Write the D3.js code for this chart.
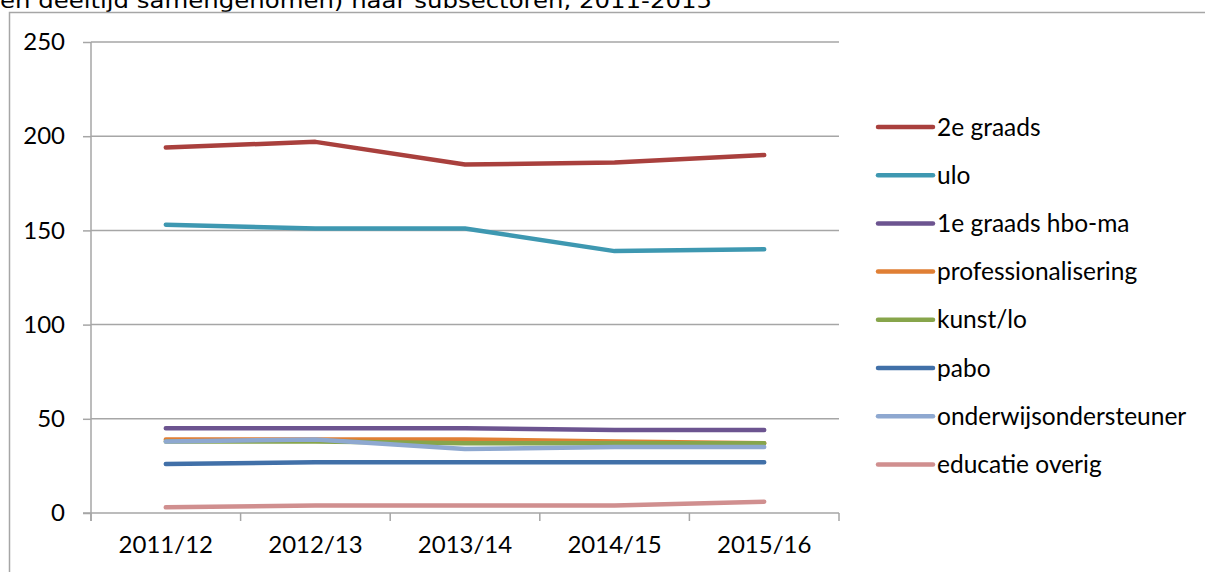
<!DOCTYPE html>
<html>
<head>
<meta charset="utf-8">
<script src="https://cdn.jsdelivr.net/npm/d3@7"></script>
<style>
  body { margin: 0; background: #fff; overflow: hidden; }
  svg { display: block; }
  .tick text { font-family: Lato, 'Open Sans', sans-serif; font-size: 24px; fill: #000; }
</style>
</head>
<body>
<script>
const years = ['2011/12', '2012/13', '2013/14', '2014/15', '2015/16']
const seriesNames = ['2e graads', 'ulo', '1e graads hbo-ma', 'professionalisering', 'kunst/lo', 'pabo', 'onderwijsondersteuner', 'educatie overig']
const seriesColors = ['#a9403d', '#3e98b1', '#6c5490', '#e07f34', '#87a54b', '#4170a8', '#8ea8d0', '#d08f8f']

const graads2 = [194, 197, 185, 186, 190]
const ulo = [153, 151, 151, 139, 140]
const graads1 = [45, 45, 45, 44, 44]
const professionalisering = [39, 39, 39, 38, 37]
const kunstLo = [38, 38, 37, 37, 37]
const pabo = [26, 27, 27, 27, 27]
const onderwijsondersteuner = [38, 39, 34, 35, 35]
const educatieOverig = [3, 4, 4, 4, 6]

const yTicks = [0, 50, 100, 150, 200, 250]

const seriesValues = [graads2, ulo, graads1, professionalisering, kunstLo, pabo, onderwijsondersteuner, educatieOverig]
const series = seriesNames.map((name, i) => ({ name, color: seriesColors[i], values: seriesValues[i] }))

const width = 1205
const height = 572
const margin = { left: 91, top: 42, right: 366, bottom: 59 }
const innerWidth = width - margin.left - margin.right
const innerHeight = height - margin.top - margin.bottom

const svg = d3.select('body').append('svg').attr('width', width).attr('height', height)

// title, its top is cut off like in the source
svg.append('text')
  .attr('x', 0)
  .attr('y', 8)
  .attr('textLength', 712)
  .attr('lengthAdjust', 'spacingAndGlyphs')
  .style('font-family', "'DejaVu Sans', Verdana, sans-serif")
  .style('font-size', '22px')
  .text('en deeltijd samengenomen) naar subsectoren, 2011-2015')

// outer chart frame (only left and top visible)
svg.append('path')
  .attr('d', `M9.5,${height}V12.5H${width}`)
  .attr('fill', 'none').attr('stroke', '#a6a6a6').attr('stroke-width', 1.5)

const g = svg.append('g').attr('transform', `translate(${margin.left},${margin.top})`)

const xScale = d3.scaleBand().domain(years).range([0, innerWidth])
const yScale = d3.scaleLinear().domain([0, 250]).range([innerHeight, 0])

// gridlines
g.append('g')
  .selectAll('line')
  .data(yTicks.filter(d => d > 0))
  .enter()
  .append('line')
  .attr('x1', 0).attr('x2', innerWidth)
  .attr('y1', d => yScale(d)).attr('y2', d => yScale(d))
  .attr('stroke', '#a6a6a6').attr('stroke-width', 1.5)

const yAxis = d3.axisLeft(yScale).tickValues(yTicks).tickSize(8).tickPadding(18)
const yAxisG = g.append('g').call(yAxis)

const xAxis = d3.axisBottom(xScale).tickSize(0).tickPadding(23)
const xAxisG = g.append('g').attr('transform', `translate(0,${innerHeight})`).call(xAxis)

// x ticks sit between categories
xAxisG.selectAll('.sep')
  .data(d3.range(years.length + 1))
  .enter()
  .append('line')
  .attr('class', 'sep')
  .attr('x1', i => i * xScale.step()).attr('x2', i => i * xScale.step())
  .attr('y1', 0).attr('y2', 8)

svg.selectAll('.domain, .tick line, .sep')
  .attr('stroke', '#a6a6a6').attr('stroke-width', 1.5)
yAxisG.select('.domain').attr('d', `M0,${innerHeight + 8}V0`)
xAxisG.select('.domain').attr('d', `M-8,0H${innerWidth}`)

const line = d3.line()
  .x((d, i) => xScale(years[i]) + xScale.bandwidth() / 2)
  .y(d => yScale(d))

g.append('g')
  .selectAll('path')
  .data(series)
  .enter()
  .append('path')
  .attr('d', d => line(d.values))
  .attr('fill', 'none')
  .attr('stroke', d => d.color)
  .attr('stroke-width', 4.5)
  .attr('stroke-linecap', 'round')
  .attr('stroke-linejoin', 'round')

// legend
const legend = svg.append('g').attr('transform', 'translate(878,127)')
const rows = legend.selectAll('g')
  .data(series)
  .enter()
  .append('g')
  .attr('transform', (d, i) => `translate(0,${i * 48.2})`)

rows.append('line')
  .attr('x1', 0).attr('x2', 55)
  .attr('stroke', d => d.color)
  .attr('stroke-width', 4.5)
  .attr('stroke-linecap', 'round')

rows.append('text')
  .attr('x', 59)
  .attr('dy', '0.35em')
  .style('font-family', 'Lato, sans-serif')
  .style('font-size', '24.5px')
  .text(d => d.name)
</script>
</body>
</html>
